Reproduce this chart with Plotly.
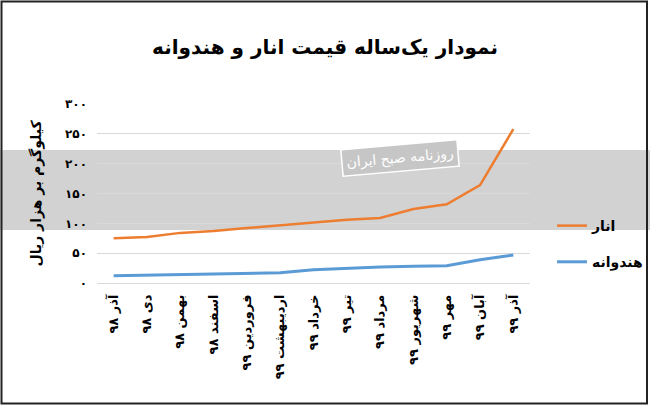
import plotly.graph_objects as go

categories = ["آذر ۹۸", "دی ۹۸", "بهمن ۹۸", "اسفند ۹۸", "فروردین ۹۹", "اردیبهشت ۹۹",
              "خرداد ۹۹", "تیر ۹۹", "مرداد ۹۹", "شهریور ۹۹", "مهر ۹۹", "آبان ۹۹", "آذر ۹۹"]
anar = [75, 77, 84, 87, 92, 97, 102, 106, 109, 124, 132, 164, 258]
hendevaneh = [12, 13, 15, 16, 17, 17, 22, 25, 27, 28, 29, 39, 47]
y_ticks = [0, 50, 100, 150, 200, 250, 300]
y_tick_labels = ["۰", "۵۰", "۱۰۰", "۱۵۰", "۲۰۰", "۲۵۰", "۳۰۰"]

FONT = "DejaVu Sans"
W, H = 650, 406
ML, MR, MT, MB = 97, 120, 104, 123
PW, PH = W - ML - MR, H - MT - MB

def px(x):
    return (x - ML) / PW

def py(y):
    return (H - MB - y) / PH

fig = go.Figure()
fig.add_trace(go.Scatter(x=categories, y=anar, name="انار", mode="lines",
                         line=dict(color="#ED7D31", width=2.5), legendgroup="a"))
fig.add_trace(go.Scatter(x=categories, y=hendevaneh, name="هندوانه", mode="lines",
                         line=dict(color="#5B9BD5", width=3), legendgroup="b"))

shapes = [
    dict(type="rect", xref="paper", yref="paper", x0=px(0), x1=px(W), y0=py(230), y1=py(150),
         fillcolor="#d2d2d2", line=dict(width=0), layer="below"),
    dict(type="rect", xref="paper", yref="paper", x0=px(1.5), x1=px(W - 3), y0=py(H - 2.5), y1=py(1.5),
         fillcolor="rgba(0,0,0,0)", line=dict(color="#222", width=2)),
]

annotations = [
    dict(text="روزنامه صبح ایران", xref="paper", yref="paper", x=px(400), y=py(158),
         xanchor="center", yanchor="middle",
         showarrow=False, textangle=-5, font=dict(family=FONT, size=14, color="white"),
         bgcolor="#c6c6c6", bordercolor="white", borderwidth=1.5, borderpad=4),
]

fig.update_layout(
    width=W, height=H, autosize=False,
    margin=dict(l=ML, r=MR, t=MT, b=MB, autoexpand=False),
    paper_bgcolor="white", plot_bgcolor="rgba(0,0,0,0)",
    title=dict(text="<b>نمودار یک‌ساله قیمت انار و هندوانه</b>", x=0.5, xanchor="center",
               y=1 - 47 / H, yanchor="middle", font=dict(family=FONT, size=20, color="black")),
    font=dict(family=FONT, color="black"),
    showlegend=True,
    legend=dict(x=px(552), y=py(210), xanchor="left", yanchor="top",
                font=dict(family=FONT, size=14, color="black", weight="bold"),
                tracegroupgap=15, bgcolor="rgba(0,0,0,0)", itemwidth=30),
    shapes=shapes,
    annotations=annotations,
)
fig.update_xaxes(type="category", range=[-0.5, 12.5], tickangle=-90, showgrid=False,
                 showline=False, ticks="", ticklabelstandoff=8, automargin=False,
                 tickfont=dict(family=FONT, size=13, color="black", weight="bold"))
fig.update_yaxes(range=[0, 300], tickvals=y_ticks, ticktext=y_tick_labels,
                 showgrid=True, gridcolor="#d9d9d9", gridwidth=1, zeroline=True,
                 zerolinecolor="#d9d9d9", zerolinewidth=1, showline=False, ticks="",
                 ticklabelstandoff=9, automargin=False,
                 tickfont=dict(family=FONT, size=12, color="black", weight="bold"),
                 title=dict(text="<b>کیلوگرم بر هزار ریال</b>", standoff=20,
                            font=dict(family=FONT, size=14, color="black")))

fig.write_html(
    "out.html",
    config={"displayModeBar": False, "responsive": False},
    post_script=("document.documentElement.style.margin='0';document.documentElement.style.overflow='hidden';"
                 "document.body.style.margin='0';document.body.style.padding='0';document.body.style.overflow='hidden';"),
)
